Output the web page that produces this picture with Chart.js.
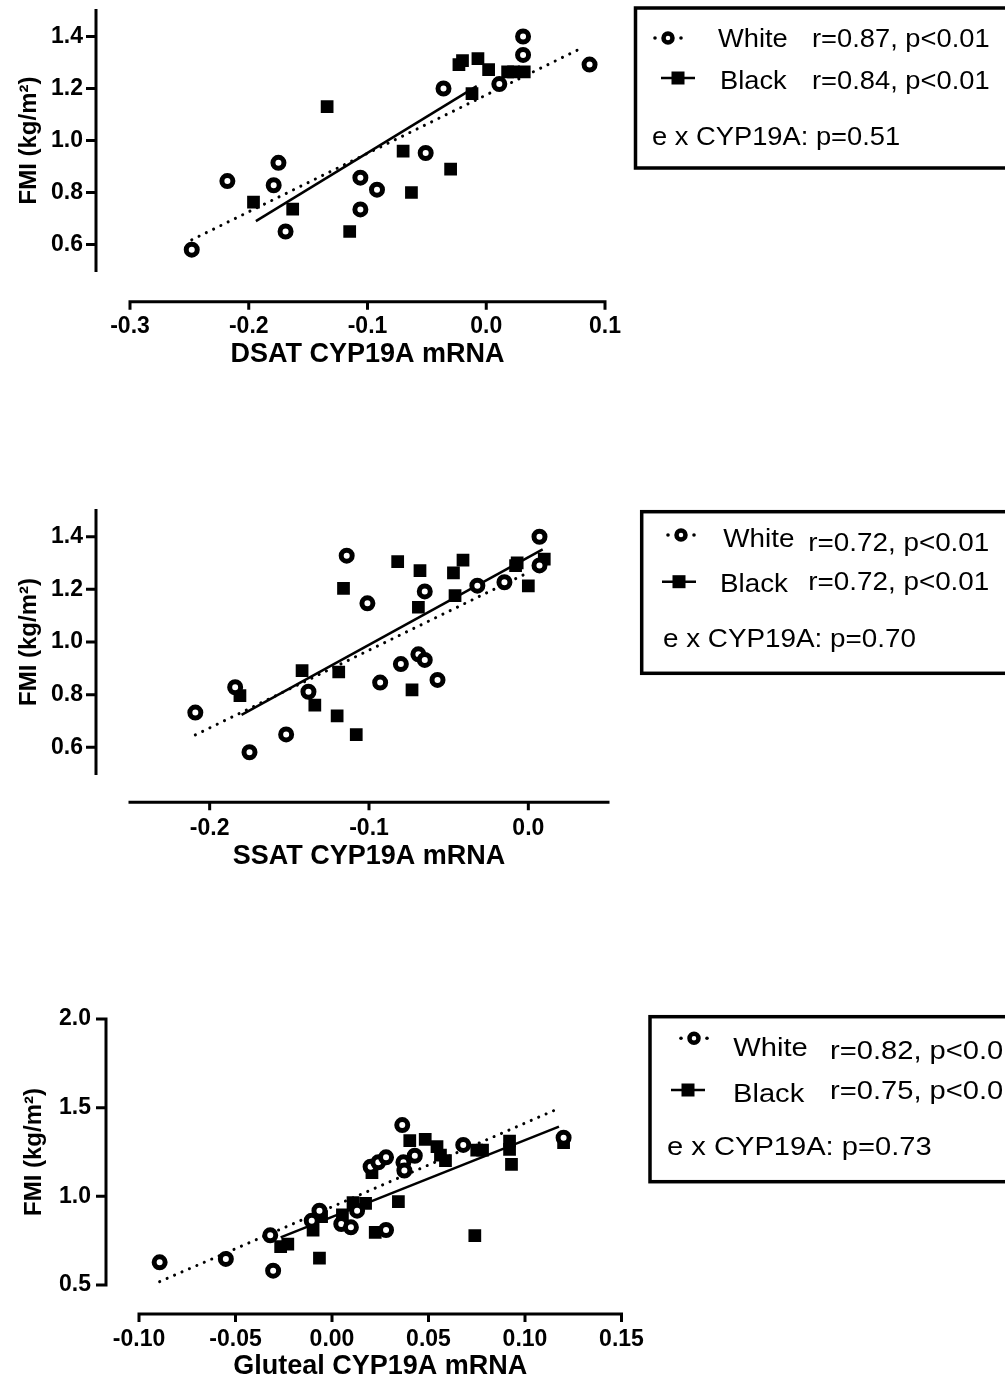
<!DOCTYPE html>
<html>
<head>
<meta charset="utf-8">
<script src="https://cdn.jsdelivr.net/npm/chart.js@4.4.1/dist/chart.umd.min.js"></script>
<style>
html, body { margin: 0; padding: 0; background: #fff; }
body { position: relative; width: 1005px; height: 1383px; overflow: hidden; }
canvas { position: absolute; left: 0; }
</style>
</head>
<body>
<canvas id="c1" width="1005" height="400" style="top:0px"></canvas>
<canvas id="c2" width="1005" height="400" style="top:480px"></canvas>
<canvas id="c3" width="1005" height="393" style="top:990px"></canvas>
<script>
// ---- DSAT panel
var dsatWhiteX = [-0.248, -0.218, -0.179, -0.175, -0.169, -0.106, -0.106, -0.092, -0.051, -0.036, 0.011, 0.031, 0.031, 0.087];
var dsatWhiteY = [0.580, 0.844, 0.828, 0.914, 0.650, 0.857, 0.735, 0.811, 0.952, 1.200, 1.217, 1.400, 1.329, 1.292];
var dsatBlackX = [-0.196, -0.163, -0.134, -0.115, -0.070, -0.063, -0.030, -0.023, -0.020, -0.007, 0.002, -0.012, 0.018, 0.023, 0.032];
var dsatBlackY = [0.763, 0.736, 1.130, 0.650, 0.959, 0.800, 0.890, 1.292, 1.307, 1.315, 1.273, 1.180, 1.264, 1.264, 1.264];
var dsatWhiteFitX = [-0.248, 0.080];
var dsatWhiteFitY = [0.618, 1.355];
var dsatBlackFitX = [-0.194, -0.008];
var dsatBlackFitY = [0.690, 1.209];
var dsatXTicks = [-0.3, -0.2, -0.1, 0.0, 0.1];
var dsatYTicks = [0.6, 0.8, 1.0, 1.2, 1.4];
var dsatLegend = ['White', 'r=0.87, p<0.01', 'Black', 'r=0.84, p<0.01', 'e x CYP19A: p=0.51'];

// ---- SSAT panel
var ssatWhiteX = [-0.209, -0.184, -0.175, -0.152, -0.138, -0.114, -0.101, -0.093, -0.080, -0.069, -0.065, -0.065, -0.057, -0.032, -0.015, 0.007, 0.007];
var ssatWhiteY = [0.732, 0.828, 0.581, 0.649, 0.811, 1.328, 1.147, 0.846, 0.916, 0.953, 0.932, 1.192, 0.856, 1.214, 1.227, 1.400, 1.291];
var ssatBlackX = [-0.181, -0.142, -0.134, -0.120, -0.119, -0.116, -0.108, -0.082, -0.073, -0.068, -0.069, -0.047, -0.046, -0.041, -0.007, -0.008, 0.000, 0.010];
var ssatBlackY = [0.796, 0.891, 0.760, 0.719, 0.886, 1.204, 0.648, 1.305, 0.818, 1.271, 1.132, 1.263, 1.176, 1.311, 1.301, 1.290, 1.213, 1.315];
var ssatWhiteFitX = [-0.209, 0.001];
var ssatWhiteFitY = [0.647, 1.267];
var ssatBlackFitX = [-0.180, 0.009];
var ssatBlackFitY = [0.723, 1.352];
var ssatXTicks = [-0.2, -0.1, 0.0];
var ssatYTicks = [0.6, 0.8, 1.0, 1.2, 1.4];
var ssatLegend = ['White', 'r=0.72, p<0.01', 'Black', 'r=0.72, p<0.01', 'e x CYP19A: p=0.70'];

// ---- Gluteal panel
var glutWhiteX = [-0.0893, -0.055, -0.032, -0.0305, -0.0105, -0.0065, 0.0048, 0.0098, 0.013, 0.020, 0.024, 0.028, 0.028, 0.0364, 0.037, 0.0375, 0.0429, 0.068, 0.120];
var glutWhiteY = [0.628, 0.647, 0.780, 0.581, 0.863, 0.919, 0.844, 0.825, 0.919, 1.167, 1.192, 1.220, 0.810, 1.402, 1.192, 1.145, 1.229, 1.290, 1.331];
var glutBlackX = [-0.0266, -0.0229, -0.0098, -0.0065, -0.0054, 0.0054, 0.0109, 0.0174, 0.0207, 0.0224, 0.0344, 0.0403, 0.0483, 0.0544, 0.0562, 0.0588, 0.074, 0.075, 0.078, 0.092, 0.092, 0.093, 0.120];
var glutBlackY = [0.716, 0.731, 0.810, 0.652, 0.885, 0.895, 0.964, 0.960, 1.133, 0.797, 0.970, 1.314, 1.321, 1.280, 1.233, 1.201, 0.778, 1.261, 1.261, 1.312, 1.265, 1.180, 1.303];
var glutWhiteFitX = [-0.0893, 0.1176];
var glutWhiteFitY = [0.519, 1.496];
var glutBlackFitX = [-0.0266, 0.1176];
var glutBlackFitY = [0.769, 1.393];
var glutXTicks = [-0.10, -0.05, 0.00, 0.05, 0.10, 0.15];
var glutYTicks = [0.5, 1.0, 1.5, 2.0];
var glutLegend = ['White', 'r=0.82, p<0.01', 'Black', 'r=0.75, p<0.01', 'e x CYP19A: p=0.73'];

var FONT = '"Liberation Sans", Arial, sans-serif';
Chart.defaults.font.family = FONT;
Chart.defaults.color = '#000';

function pts(xs, ys) {
    return xs.map(function (x, i) { return { x: x, y: ys[i] }; });
}

// offset axes, prism style: y axis left of the plot, x axis below it
var prismAxes = {
    id: 'prismAxes',
    afterDraw: function (chart, args, o) {
        var ctx = chart.ctx, a = chart.chartArea, x = chart.scales.x, y = chart.scales.y;
        var ax = a.left - o.yGap, ay = a.bottom + o.xGap;
        ctx.save();
        ctx.strokeStyle = '#000';
        ctx.lineWidth = 3;
        ctx.beginPath();
        ctx.moveTo(ax, y.getPixelForValue(y.max) - 1.5);
        ctx.lineTo(ax, y.getPixelForValue(y.min) + 1.5);
        o.yTicks.forEach(function (v) {
            var py = y.getPixelForValue(v);
            ctx.moveTo(ax - 10, py);
            ctx.lineTo(ax, py);
        });
        ctx.moveTo(x.getPixelForValue(x.min) - 1.5, ay);
        ctx.lineTo(x.getPixelForValue(x.max) + 1.5, ay);
        o.xTicks.forEach(function (v) {
            var px = x.getPixelForValue(v);
            ctx.moveTo(px, ay);
            ctx.lineTo(px, ay + 8);
        });
        ctx.stroke();
        ctx.restore();
    }
};

function stretchText(ctx, txt, x, y, sx) {
    ctx.save();
    ctx.translate(x, y);
    ctx.scale(sx, 1);
    ctx.fillText(txt, 0, 0);
    ctx.restore();
}

var sideLegend = {
    id: 'sideLegend',
    afterDraw: function (chart, args, o) {
        var ctx = chart.ctx;
        ctx.save();
        ctx.strokeStyle = '#000';
        ctx.fillStyle = '#000';
        ctx.lineWidth = 3.5;
        ctx.strokeRect(o.box[0], o.box[1], 1100 - o.box[0], o.box[2] - o.box[1]);

        // white symbol: dot, ring, dot
        ctx.lineWidth = 4.5;
        ctx.beginPath();
        ctx.arc(o.ring[0], o.ring[1], 4.5, 0, Math.PI * 2);
        ctx.stroke();
        [-13, 13].forEach(function (d) {
            ctx.beginPath();
            ctx.arc(o.ring[0] + d, o.ring[1], 1.8, 0, Math.PI * 2);
            ctx.fill();
        });
        // black symbol: line and square
        ctx.lineWidth = 2.5;
        ctx.beginPath();
        ctx.moveTo(o.sq[0] - 17, o.sq[1]);
        ctx.lineTo(o.sq[0] + 17, o.sq[1]);
        ctx.stroke();
        ctx.fillRect(o.sq[0] - 6.5, o.sq[1] - 6.5, 13, 13);

        ctx.font = '26px ' + FONT;
        ctx.textBaseline = 'alphabetic';
        var t = o.text;
        stretchText(ctx, t[0], o.name[0], o.row1[0], o.sx);
        stretchText(ctx, t[1], o.stat[0], o.row1[1], o.sx);
        stretchText(ctx, t[2], o.name[1], o.row2[0], o.sx);
        stretchText(ctx, t[3], o.stat[1], o.row2[1], o.sx);
        stretchText(ctx, t[4], o.ex[0], o.ex[1], o.sx);
        ctx.restore();
    }
};

function makePanel(id, p) {
    var cv = document.getElementById(id);
    var H = cv.height;
    return new Chart(cv, {
        type: 'scatter',
        data: {
            datasets: [
                {
                    label: 'White',
                    data: pts(p.wx, p.wy),
                    pointStyle: 'circle',
                    pointRadius: 5.5,
                    pointBorderWidth: 5,
                    pointBackgroundColor: '#fff',
                    pointBorderColor: '#000',
                    order: 1
                },
                {
                    label: 'Black',
                    data: pts(p.bx, p.by),
                    pointStyle: 'rect',
                    pointRadius: 9,
                    pointBorderWidth: 0,
                    pointBackgroundColor: '#000',
                    pointBorderColor: '#000',
                    order: 2
                },
                {
                    type: 'line',
                    label: 'White fit',
                    data: pts(p.wfx, p.wfy),
                    borderColor: '#000',
                    borderWidth: 3,
                    borderDash: [0.1, 8],
                    borderCapStyle: 'round',
                    pointRadius: 0,
                    fill: false,
                    order: 4
                },
                {
                    type: 'line',
                    label: 'Black fit',
                    data: pts(p.bfx, p.bfy),
                    borderColor: '#000',
                    borderWidth: 2.5,
                    pointRadius: 0,
                    fill: false,
                    order: 3
                }
            ]
        },
        options: {
            responsive: false,
            animation: false,
            devicePixelRatio: 1,
            layout: { padding: { left: 0, top: p.top, right: 1005 - p.right, bottom: 0 } },
            plugins: {
                legend: { display: false },
                tooltip: { enabled: false },
                prismAxes: { yGap: p.yGap, xGap: p.xGap, xTicks: p.xTicks, yTicks: p.yTicks },
                sideLegend: p.legend
            },
            scales: {
                x: {
                    type: 'linear',
                    min: p.xMin,
                    max: p.xMax,
                    grid: { display: false, drawTicks: false },
                    border: { display: false },
                    afterBuildTicks: function (s) {
                        s.ticks = p.xTicks.map(function (v) { return { value: v }; });
                    },
                    afterFit: function (s) {
                        s.height = H - p.bottom;
                        s.paddingLeft = 0;
                        s.paddingRight = 0;
                    },
                    ticks: {
                        autoSkip: false,
                        maxRotation: 0,
                        padding: p.xLabPad,
                        color: '#000',
                        font: { size: 23, weight: 'bold' },
                        callback: function (v) { return v.toFixed(p.xDec); }
                    },
                    title: {
                        display: true,
                        text: p.xTitle,
                        color: '#000',
                        font: { size: 27, weight: 'bold' },
                        padding: { top: 0, bottom: p.xTitlePad }
                    }
                },
                y: {
                    type: 'linear',
                    min: p.yMin,
                    max: p.yMax,
                    grid: { display: false, drawTicks: false },
                    border: { display: false },
                    afterBuildTicks: function (s) {
                        s.ticks = p.yTicks.map(function (v) { return { value: v }; });
                    },
                    afterFit: function (s) {
                        s.width = p.left;
                        s.paddingTop = 0;
                        s.paddingBottom = 0;
                    },
                    ticks: {
                        autoSkip: false,
                        padding: p.yLabPad,
                        color: '#000',
                        font: { size: 23, weight: 'bold' },
                        callback: function (v) { return v.toFixed(1); }
                    },
                    title: {
                        display: true,
                        text: 'FMI (kg/m\u00B2)',
                        color: '#000',
                        font: { size: 24, weight: 'bold' },
                        padding: { top: p.yTitlePad, bottom: 0 }
                    }
                }
            }
        },
        plugins: [prismAxes, sideLegend]
    });
}

makePanel('c1', {
    wx: dsatWhiteX, wy: dsatWhiteY, bx: dsatBlackX, by: dsatBlackY,
    wfx: dsatWhiteFitX, wfy: dsatWhiteFitY, bfx: dsatBlackFitX, bfy: dsatBlackFitY,
    xMin: -0.3, xMax: 0.1, yMin: 0.5, yMax: 1.5, xTicks: dsatXTicks, yTicks: dsatYTicks, xDec: 1,
    left: 130, right: 605, top: 8.8, bottom: 270.5,
    yGap: 34, xGap: 31.2, xLabPad: 42.4, yLabPad: 47, xTitlePad: 28.8, yTitlePad: 14.6,
    xTitle: 'DSAT CYP19A mRNA',
    legend: {
        box: [635.5, 8, 168], ring: [668, 38], sq: [678, 78],
        name: [718, 720], stat: [812, 812], row1: [46.7, 46.7], row2: [89.3, 89.3],
        ex: [652, 145], text: dsatLegend, sx: 1.05
    }
});

makePanel('c2', {
    wx: ssatWhiteX, wy: ssatWhiteY, bx: ssatBlackX, by: ssatBlackY,
    wfx: ssatWhiteFitX, wfy: ssatWhiteFitY, bfx: ssatBlackFitX, bfy: ssatBlackFitY,
    xMin: -0.25, xMax: 0.05, yMin: 0.5, yMax: 1.5, xTicks: ssatXTicks, yTicks: ssatYTicks, xDec: 1,
    left: 130, right: 608, top: 30.4, bottom: 293.6,
    yGap: 34, xGap: 28.7, xLabPad: 40.9, yLabPad: 47, xTitlePad: 7.1, yTitlePad: 14.6,
    xTitle: 'SSAT CYP19A mRNA',
    legend: {
        box: [641.7, 31.7, 193.3], ring: [681, 55], sq: [679, 101.7],
        name: [723.3, 720], stat: [808.3, 808.3], row1: [66.7, 71], row2: [111.7, 109.5],
        ex: [663, 166.7], text: ssatLegend, sx: 1.07
    }
});

makePanel('c3', {
    wx: glutWhiteX, wy: glutWhiteY, bx: glutBlackX, by: glutBlackY,
    wfx: glutWhiteFitX, wfy: glutWhiteFitY, bfx: glutBlackFitX, bfy: glutBlackFitY,
    xMin: -0.10, xMax: 0.15, yMin: 0.5, yMax: 2.0, xTicks: glutXTicks, yTicks: glutYTicks, xDec: 2,
    left: 139, right: 621.5, top: 29, bottom: 295,
    yGap: 33, xGap: 29, xLabPad: 41.2, yLabPad: 48, xTitlePad: 0, yTitlePad: 19.6,
    xTitle: 'Gluteal CYP19A mRNA',
    legend: {
        box: [650, 26.7, 191.7], ring: [694, 48.3], sq: [688, 100],
        name: [733.3, 733], stat: [830, 830], row1: [66, 69], row2: [112, 109],
        ex: [667, 165], text: glutLegend, sx: 1.12
    }
});
</script>
</body>
</html>
